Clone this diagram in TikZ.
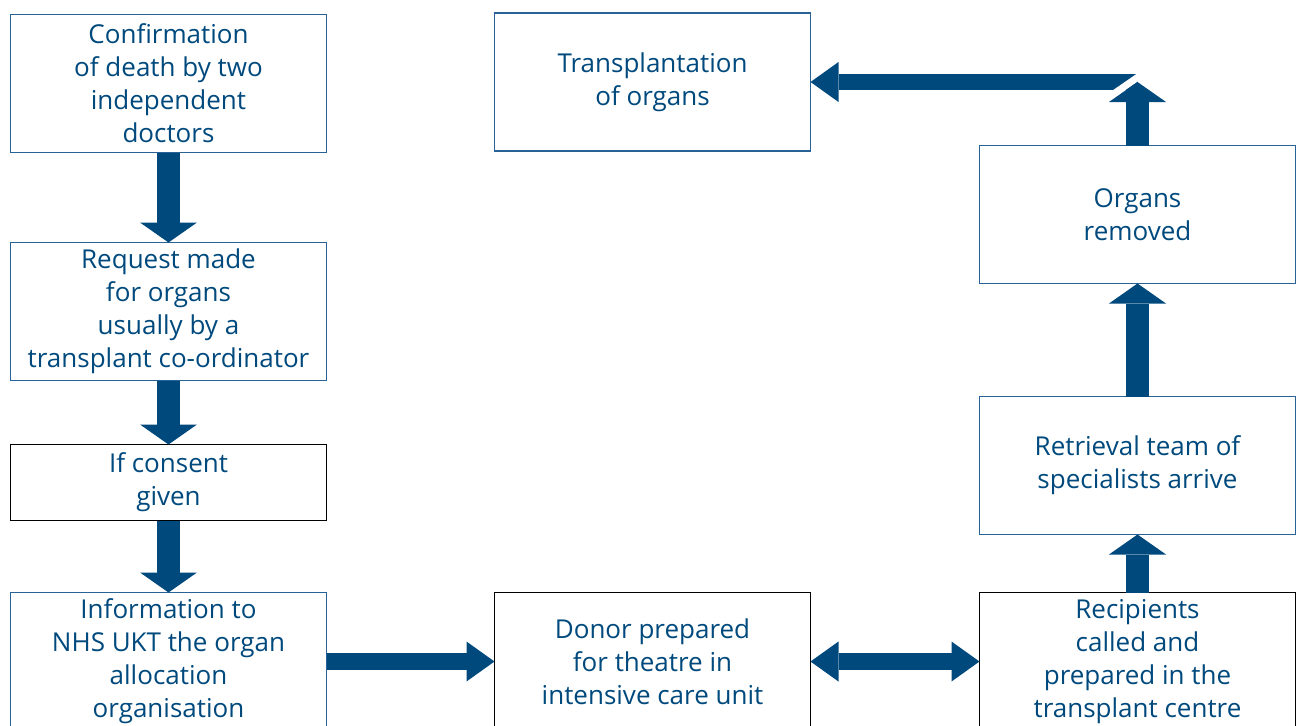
\documentclass[tikz,border=0pt]{standalone}
\usepackage{fontspec}
\setmainfont{Open Sans}
\usetikzlibrary{positioning,arrows.meta}
\definecolor{nhsblue}{RGB}{0,73,125}
\definecolor{edgeblue}{RGB}{40,98,150}

\tikzset{
  stage/.style={draw=edgeblue,line width=1.2pt,minimum width=316pt,minimum height=138pt,outer sep=0pt,
    align=center,text=nhsblue,inner sep=2pt,font=\fontsize{26}{33}\selectfont},
  blackstage/.style={stage,draw=black},
  vflow/.style={draw=nhsblue,line width=23pt,-{Triangle[width=57pt,length=20pt,line width=0pt]}},
  hflow/.style={draw=nhsblue,line width=16.5pt,-{Triangle[width=40pt,length=28pt,line width=0pt]}},
  hboth/.style={hflow,{Triangle[width=40pt,length=28pt,line width=0pt]}-{Triangle[width=40pt,length=28pt,line width=0pt]}},
}

\begin{document}
\begin{tikzpicture}[x=1pt,y=-1pt]
\useasboundingbox (0,0) rectangle (1302,726);
\clip (0,0) rectangle (1302,726);
% left column, top to bottom
\node[stage] (conf) at (168.5,83.5) {Confirmation\\of death by two\\independent\\doctors};
\node[stage,below=90pt of conf] (req) {Request made\\for organs\\usually by a\\transplant co-ordinator};
\node[blackstage,minimum height=76pt,below=64pt of req] (cons) {If consent\\given};
\node[stage,below=72pt of cons] (info) {Information to\\NHS UKT the organ\\allocation\\organisation};
% bottom row and right column
\node[blackstage,right=168pt of info] (donor) {Donor prepared\\for theatre in\\intensive care unit};
\node[blackstage,right=169pt of donor] (recip) {Recipients\\called and\\prepared in the\\transplant centre};
\node[stage,above=58pt of recip] (retr) {Retrieval team of\\specialists arrive};
\node[stage,above=113pt of retr] (organs) {Organs\\removed};
\node[stage,right=168pt of conf,yshift=1.5pt] (transp) {Transplantation\\of organs};
\coordinate (corner) at (organs.north |- transp.east);

\draw[vflow] (conf) -- (req);
\draw[vflow] (req) -- (cons);
\draw[vflow] (cons) -- (info);
\draw[hflow] (info) -- (donor);
\draw[hboth] (donor) -- (recip);
\draw[vflow] (recip) -- (retr);
\draw[vflow] (retr) -- (organs);
% broken corner at the top right
\draw[hflow] (corner) -- (transp);
\draw[white,line width=7pt] ([shift={(-41,23.8)}]corner) -- ([shift={(12,-12.8)}]corner);
\draw[vflow] (organs) -- (corner);
\end{tikzpicture}
\end{document}
